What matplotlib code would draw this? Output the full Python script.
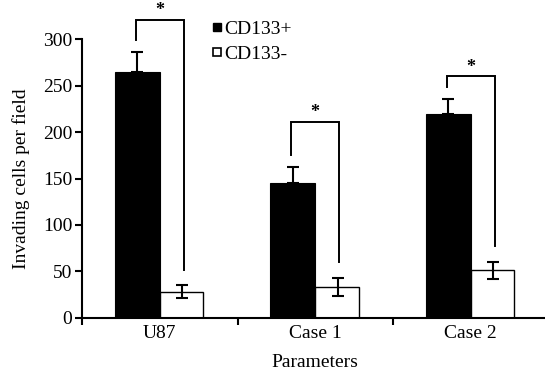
import matplotlib
matplotlib.use("Agg")
import matplotlib.pyplot as plt
from matplotlib.lines import Line2D
import numpy as np

plt.rcParams['font.family'] = ['Liberation Serif', 'DejaVu Serif']

# data
categories = ["U87", "Case 1", "Case 2"]
cd133_pos = [265, 145, 220]
cd133_pos_err = [21, 17, 16]
cd133_neg = [28, 33, 51]
cd133_neg_err = [7, 10, 9]
bracket_top = [321, 211, 260]
y_ticks = [0, 50, 100, 150, 200, 250, 300]

BAR_W = 0.29
LEG_OFF = 0.155
FS = 14

fig = plt.figure(figsize=(5.45, 3.73), dpi=100)
ax = fig.add_axes([0.1505, 0.148, 0.853, 0.7466])

x = np.arange(len(categories))

# CD133+ black bars, only upper error
ax.bar(x - BAR_W, cd133_pos, width=BAR_W, align='edge', color='black',
       edgecolor='black', linewidth=0.8, zorder=2)
ax.errorbar(x - BAR_W / 2, cd133_pos, yerr=[np.zeros(3), cd133_pos_err],
            fmt='none', ecolor='black', elinewidth=1.5, capsize=4, capthick=1.5,
            zorder=3)

# CD133- white bars, two-sided error
ax.bar(x, cd133_neg, width=BAR_W - 0.01, align='edge', color='white',
       edgecolor='black', linewidth=1.0, zorder=2)
ax.errorbar(x + BAR_W / 2, cd133_neg, yerr=cd133_neg_err,
            fmt='none', ecolor='black', elinewidth=1.5, capsize=4, capthick=1.5,
            zorder=3)

# significance brackets
for i in range(len(categories)):
    xl = x[i] - LEG_OFF
    xr = x[i] + LEG_OFF
    yl = cd133_pos[i] + cd133_pos_err[i] + 13
    yr = cd133_neg[i] + cd133_neg_err[i] + 17
    top = bracket_top[i]
    ax.plot([xl, xl, xr, xr], [yl, top, top, yr], color='black', lw=1.4,
            solid_joinstyle='miter', clip_on=False, zorder=3)
    ax.text((xl + xr) / 2, top + 1, "*", ha='center', va='bottom',
            fontsize=13, fontweight='bold', clip_on=False)

ax.set_xlim(-0.5, 2.49)
ax.set_ylim(0, 300)
ax.set_yticks(y_ticks)
ax.set_xticks([-0.5, 0.5, 1.5])
ax.set_xticklabels([])
ax.set_xticks(x, minor=True)
ax.set_xticklabels(categories, minor=True)
ax.tick_params(axis='x', which='minor', length=0, pad=5)
ax.tick_params(axis='x', which='major', length=5, width=1.5, direction='out')
ax.tick_params(axis='y', length=5, width=1.5, direction='out', pad=2)
ax.tick_params(which='both', labelsize=FS)

for s in ['top', 'right']:
    ax.spines[s].set_visible(False)
for s in ['left', 'bottom']:
    ax.spines[s].set_linewidth(1.5)

ax.set_ylabel("Invading cells per field", fontsize=FS, labelpad=9)
ax.set_xlabel("Parameters", fontsize=FS, labelpad=9)

handles = [
    Line2D([], [], marker='s', linestyle='none', markersize=5.5,
           markerfacecolor='black', markeredgecolor='black'),
    Line2D([], [], marker='s', linestyle='none', markersize=5.5,
           markerfacecolor='white', markeredgecolor='black', markeredgewidth=1.2),
]
ax.legend(handles, ["CD133+", "CD133-"], loc='upper left',
          bbox_to_anchor=(0.265, 1.095), frameon=False, fontsize=FS,
          handlelength=0.4, handletextpad=0.2, labelspacing=0.38,
          borderaxespad=0)

fig.savefig("out.png", dpi=100)
